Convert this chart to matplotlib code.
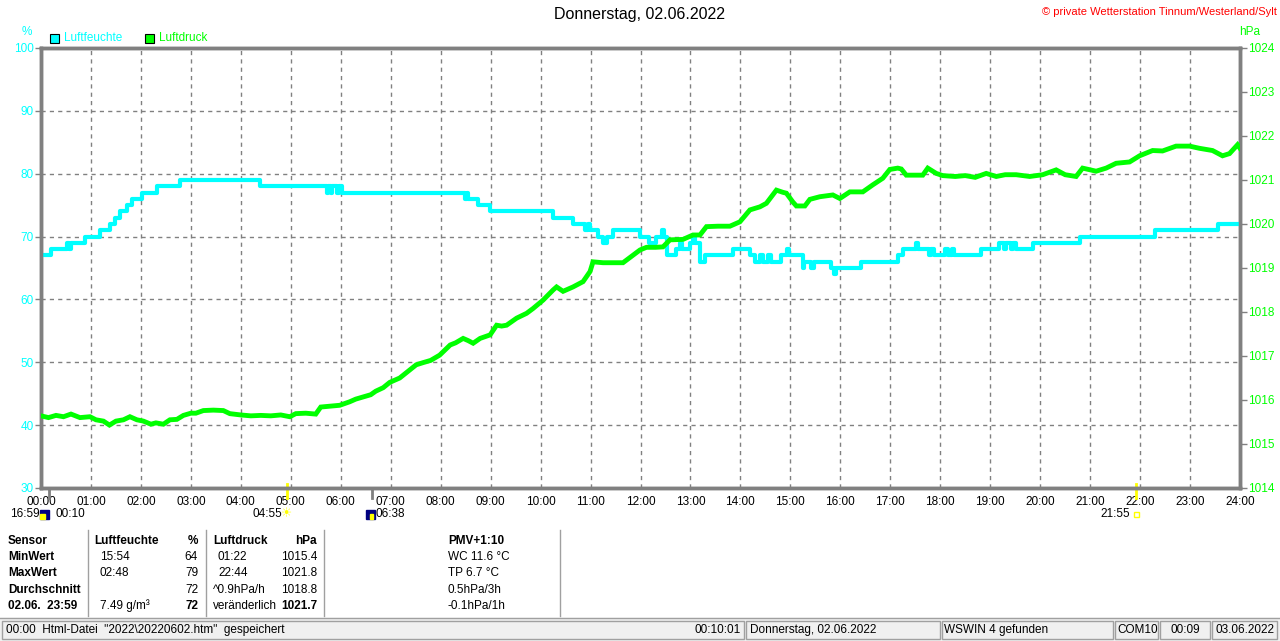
import matplotlib
matplotlib.use("Agg")
import matplotlib.pyplot as plt
from matplotlib.patches import Rectangle

plt.rcParams['font.family'] = ['Liberation Sans', 'DejaVu Sans']

# humidity (%), step values, hour of day
hum_time = [0.00, 0.21, 0.52, 0.56, 0.60, 0.88, 1.18, 1.38, 1.48, 1.58, 1.72, 1.82,
            2.02, 2.32, 2.78, 4.38, 5.72, 5.75, 5.80, 5.83, 5.93, 5.96, 6.02,
            8.48, 8.52, 8.55, 8.74, 8.98, 10.24, 10.64, 10.88, 10.94, 10.98,
            11.14, 11.24, 11.32, 11.44, 11.98, 12.18, 12.32, 12.44, 12.48, 12.54,
            12.72, 12.80, 12.84, 13.00, 13.06, 13.10, 13.19, 13.30, 13.85,
            14.19, 14.29, 14.40, 14.45, 14.55, 14.62, 14.82, 14.93, 14.98,
            15.25, 15.28, 15.42, 15.48, 15.82, 15.87, 15.92, 16.42, 17.15,
            17.25, 17.52, 17.56, 17.78, 17.82, 17.88, 18.10, 18.16, 18.24,
            18.28, 18.82, 19.18, 19.28, 19.32, 19.42, 19.45, 19.52, 19.85,
            20.79, 22.29, 23.55, 24.00]
hum_value = [67, 68, 69, 68, 69, 70, 71, 72, 73, 74, 75, 76,
             77, 78, 79, 78, 77, 78, 77, 78, 77, 78, 77,
             76, 77, 76, 75, 74, 73, 72, 71, 72, 71,
             70, 69, 70, 71, 70, 69, 70, 71, 70, 67,
             68, 69, 68, 69, 70, 69, 66, 67, 68,
             67, 66, 67, 66, 67, 66, 67, 68, 67,
             65, 66, 65, 66, 65, 64, 65, 66, 67,
             68, 69, 68, 67, 68, 67, 68, 67, 68,
             67, 68, 69, 68, 69, 68, 69, 68, 69,
             70, 71, 72, 72]

# air pressure (hPa)
press_time = [0.00, 0.15, 0.30, 0.45, 0.60, 0.78, 0.98, 1.10, 1.25, 1.37, 1.50, 1.65,
              1.78, 1.92, 2.05, 2.20, 2.30, 2.45, 2.58, 2.72, 2.85, 3.00, 3.10, 3.25,
              3.45, 3.65, 3.78, 4.00, 4.20, 4.40, 4.60, 4.80, 4.98, 5.10, 5.30, 5.50,
              5.60, 5.80, 5.98, 6.18, 6.30, 6.45, 6.60, 6.70, 6.85, 6.98, 7.18, 7.38,
              7.51, 7.65, 7.80, 7.98, 8.19, 8.30, 8.45, 8.55, 8.65, 8.79, 8.99, 9.12,
              9.22, 9.32, 9.52, 9.72, 9.85, 10.05, 10.25, 10.32, 10.45, 10.55, 10.65,
              10.85, 10.99, 11.05, 11.25, 11.45, 11.65, 11.79, 11.99, 12.12, 12.30,
              12.45, 12.59, 12.85, 13.05, 13.19, 13.32, 13.55, 13.79, 13.99, 14.19,
              14.39, 14.52, 14.72, 14.85, 14.92, 15.05, 15.12, 15.29, 15.39, 15.59,
              15.85, 15.99, 16.19, 16.45, 16.65, 16.85, 16.99, 17.15, 17.22, 17.32,
              17.65, 17.75, 17.92, 18.05, 18.30, 18.50, 18.70, 18.92, 19.12, 19.30,
              19.52, 19.79, 20.05, 20.32, 20.50, 20.72, 20.85, 21.12, 21.32, 21.52,
              21.79, 21.99, 22.25, 22.45, 22.72, 22.99, 23.19, 23.45, 23.65, 23.79,
              23.95, 24.00]
press_value = [1015.64, 1015.60, 1015.65, 1015.62, 1015.68, 1015.60, 1015.62, 1015.55,
               1015.52, 1015.43, 1015.52, 1015.55, 1015.62, 1015.55, 1015.52, 1015.45,
               1015.48, 1015.45, 1015.55, 1015.56, 1015.65, 1015.70, 1015.70, 1015.76,
               1015.77, 1015.76, 1015.69, 1015.66, 1015.64, 1015.65, 1015.64, 1015.66,
               1015.62, 1015.69, 1015.70, 1015.68, 1015.84, 1015.86, 1015.88, 1015.96,
               1016.02, 1016.07, 1016.12, 1016.20, 1016.28, 1016.40, 1016.50, 1016.68,
               1016.80, 1016.85, 1016.90, 1017.02, 1017.25, 1017.30, 1017.40, 1017.35,
               1017.29, 1017.40, 1017.48, 1017.70, 1017.68, 1017.70, 1017.86, 1017.97,
               1018.08, 1018.27, 1018.50, 1018.57, 1018.47, 1018.52, 1018.57, 1018.69,
               1018.92, 1019.14, 1019.12, 1019.12, 1019.12, 1019.24, 1019.41, 1019.47,
               1019.47, 1019.48, 1019.64, 1019.65, 1019.75, 1019.75, 1019.94, 1019.95,
               1019.95, 1020.05, 1020.32, 1020.39, 1020.47, 1020.77, 1020.72, 1020.70,
               1020.50, 1020.41, 1020.41, 1020.56, 1020.62, 1020.66, 1020.58, 1020.73,
               1020.73, 1020.89, 1021.04, 1021.24, 1021.27, 1021.25, 1021.11, 1021.11,
               1021.27, 1021.15, 1021.10, 1021.08, 1021.10, 1021.06, 1021.15, 1021.08,
               1021.12, 1021.12, 1021.08, 1021.12, 1021.23, 1021.12, 1021.08, 1021.27,
               1021.20, 1021.27, 1021.38, 1021.41, 1021.55, 1021.67, 1021.66, 1021.77,
               1021.77, 1021.72, 1021.67, 1021.55, 1021.60, 1021.80, 1021.72]

hour_labels = ["%02d:00" % h for h in range(25)]
hum_ticks = [30, 40, 50, 60, 70, 80, 90, 100]
press_ticks = list(range(1014, 1025))

# stats table below the chart
row_names = ["Sensor", "MinWert", "MaxWert", "Durchschnitt", "02.06.  23:59"]
hum_times = ["Luftfeuchte", "15:54", "02:48", "", "7.49 g/m³"]
hum_stats = ["%", "64", "79", "72", "72"]
press_times = ["Luftdruck", "01:22", "22:44", "^0.9hPa/h", "veränderlich"]
press_stats = ["hPa", "1015.4", "1021.8", "1018.8", "1021.7"]
pmv_lines = ["PMV+1:10", "WC 11.6 °C", "TP 6.7 °C", "0.5hPa/3h", "-0.1hPa/1h"]

status_texts = ["Donnerstag, 02.06.2022", "WSWIN 4 gefunden", "COM10", "00:09", "03.06.2022"]

CYAN = "#00ffff"
GREEN = "#00ff00"
GRAY = "#808080"
W, H = 1280, 641


def fx(x):
    return x / W


def fy(y):
    return 1 - y / H


fig = plt.figure(figsize=(12.8, 6.41), dpi=100)
ax = fig.add_axes([fx(41), fy(488), (1240 - 41) / W, (488 - 48) / H])
ax.set_xlim(0, 24)
ax.set_ylim(30, 100)
ax.set_xticks(range(25))
ax.set_xticklabels(hour_labels)
ax.set_yticks(hum_ticks)
ax.grid(True, color=GRAY, linestyle=(0, (3, 3)), linewidth=1)
ax.tick_params(axis='x', length=0, pad=6, labelsize=8.5, labelcolor='black')
ax.tick_params(axis='y', length=4, color=GRAY, width=1, labelsize=8.5, labelcolor=CYAN, pad=1)
for s in ax.spines.values():
    s.set_color(GRAY)
    s.set_linewidth(2.5)

ax2 = ax.twinx()
ax2.set_ylim(1014, 1024)
ax2.set_yticks(press_ticks)
ax2.tick_params(axis='y', length=5, color=GRAY, width=1, labelsize=8.5, labelcolor=GREEN, pad=1)
for s in ax2.spines.values():
    s.set_color(GRAY)
    s.set_linewidth(2.5)

ax.step(hum_time, hum_value, where='post', color=CYAN, lw=3, zorder=3)
ax2.plot(press_time, press_value, color=GREEN, lw=3.5, zorder=3, solid_joinstyle='miter')

# sun / moon marks below the time axis
tr = ax.get_xaxis_transform()
ax.plot([10 / 60, 10 / 60], [0, -0.022], color=GRAY, lw=2, transform=tr, clip_on=False)
ax.plot([6 + 38 / 60, 6 + 38 / 60], [0, -0.022], color=GRAY, lw=2, transform=tr, clip_on=False)
ax.plot([4 + 55 / 60, 4 + 55 / 60], [0.01, -0.022], color="#ffff00", lw=2, transform=tr, clip_on=False)
ax.plot([21 + 55 / 60, 21 + 55 / 60], [0.01, -0.022], color="#ffff00", lw=2, transform=tr, clip_on=False)

fs = 8.5
fig.text(fx(10), fy(514), "16:59", fontsize=fs, va='center')
fig.add_artist(Rectangle((fx(40), fy(519)), 9 / W, 9 / H, color="#000080"))
fig.add_artist(Rectangle((fx(40), fy(519)), 5 / W, 5 / H, color="#ffff00"))
fig.text(fx(55), fy(514), "00:10", fontsize=fs, va='center')
fig.text(fx(282), fy(514), "04:55", fontsize=fs, va='center', ha='right')
fig.text(fx(287), fy(514), "☀", fontsize=9, va='center', ha='center', color="#ffff00",
         family=['DejaVu Sans'])
fig.add_artist(Rectangle((fx(366), fy(519)), 9 / W, 9 / H, color="#000080"))
fig.add_artist(Rectangle((fx(370), fy(519)), 3 / W, 5 / H, color="#ffff00"))
fig.text(fx(376), fy(514), "06:38", fontsize=fs, va='center')
fig.text(fx(1130), fy(514), "21:55", fontsize=fs, va='center', ha='right')
fig.add_artist(Rectangle((fx(1134), fy(517)), 5 / W, 5 / H, fill=False, edgecolor="#ffff00", lw=1))

# header: title, copyright, legend, axis units
fig.text(0.5, fy(15), "Donnerstag, 02.06.2022", fontsize=11.5, ha='center', va='center')
fig.text(fx(1277), fy(12), "© private Wetterstation Tinnum/Westerland/Sylt", fontsize=8,
         ha='right', va='center', color='red')
fig.add_artist(Rectangle((fx(50), fy(43)), 9 / W, 9 / H, facecolor=CYAN, edgecolor='black', lw=0.8))
fig.text(fx(64), fy(38), "Luftfeuchte", fontsize=fs, va='center', color=CYAN)
fig.add_artist(Rectangle((fx(145), fy(43)), 9 / W, 9 / H, facecolor=GREEN, edgecolor='black', lw=0.8))
fig.text(fx(159), fy(38), "Luftdruck", fontsize=fs, va='center', color=GREEN)
fig.text(fx(27), fy(32), "%", fontsize=fs, va='center', ha='center', color=CYAN)
fig.text(fx(1250), fy(32), "hPa", fontsize=fs, va='center', ha='center', color=GREEN)

# stats table
rows_y = [541, 557, 573, 590, 606]
for i, y in enumerate(rows_y):
    bold = 'bold' if i == 0 else 'normal'
    fig.text(fx(8), fy(y), row_names[i], fontsize=fs, va='center', weight='bold')
    fig.text(fx(94 if i == 0 else 100), fy(y), hum_times[i], fontsize=fs, va='center', weight=bold)
    fig.text(fx(198), fy(y), hum_stats[i], fontsize=fs, va='center', ha='right',
             weight='bold' if i in (0, 4) else 'normal')
    fig.text(fx(213 if i in (0, 3, 4) else 218), fy(y), press_times[i], fontsize=fs,
             va='center', weight=bold)
    fig.text(fx(317), fy(y), press_stats[i], fontsize=fs, va='center', ha='right',
             weight='bold' if i in (0, 4) else 'normal')
    fig.text(fx(448), fy(y), pmv_lines[i], fontsize=fs, va='center', weight=bold)
for x in [88, 206, 324, 560]:
    fig.add_artist(plt.Line2D([fx(x), fx(x)], [fy(530), fy(616)], color="#a0a0a0", lw=1))

# status bar
fig.add_artist(Rectangle((0, 0), 1, (H - 618) / H, color="#f0f0f0"))
fig.add_artist(plt.Line2D([0, 1], [fy(618), fy(618)], color="#a0a0a0", lw=1))
boxes = [(2, 744), (746, 940), (942, 1113), (1115, 1158), (1160, 1210), (1212, 1277)]
for x0, x1 in boxes:
    fig.add_artist(Rectangle((fx(x0), fy(639)), (x1 - x0) / W, 18 / H, fill=False,
                             edgecolor="#a0a0a0", lw=1))
fig.text(fx(6), fy(630), '00:00  Html-Datei  "2022\\20220602.htm"  gespeichert', fontsize=fs, va='center')
fig.text(fx(741), fy(630), "00:10:01", fontsize=fs, va='center', ha='right')
fig.text(fx(750), fy(630), status_texts[0], fontsize=fs, va='center')
fig.text(fx(944), fy(630), status_texts[1], fontsize=fs, va='center')
fig.text(fx(1117), fy(630), status_texts[2], fontsize=fs, va='center')
fig.text(fx(1185), fy(630), status_texts[3], fontsize=fs, va='center', ha='center')
fig.text(fx(1275), fy(630), status_texts[4], fontsize=fs, va='center', ha='right')

fig.savefig("out.png", dpi=100)
